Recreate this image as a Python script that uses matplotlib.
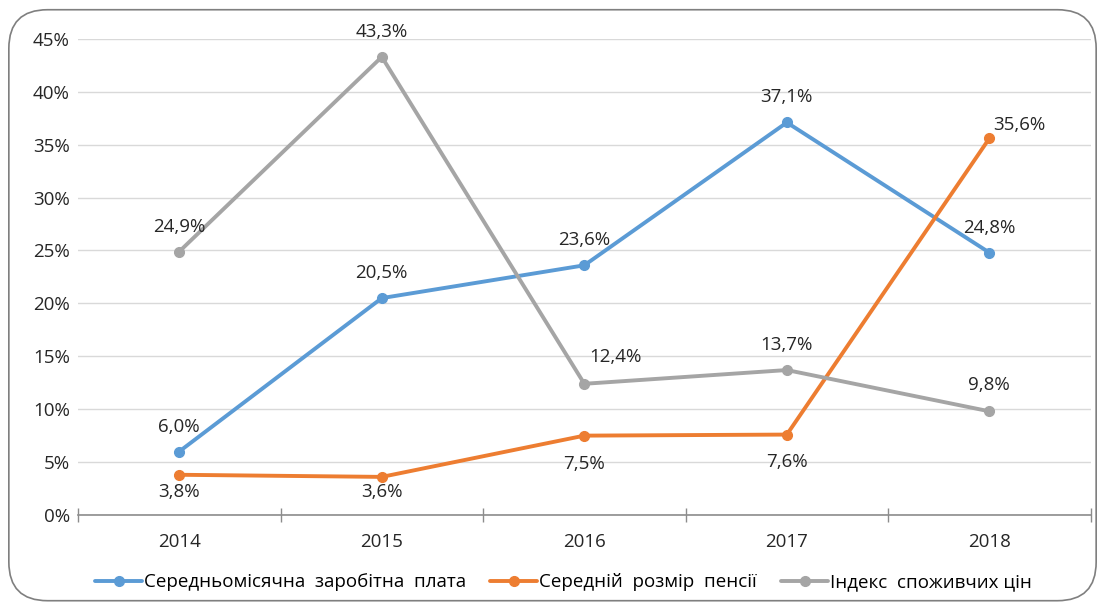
import matplotlib
matplotlib.use("Agg")
import matplotlib.pyplot as plt
from matplotlib.patches import FancyBboxPatch
from matplotlib.ticker import FuncFormatter

plt.rcParams['font.family'] = ['Open Sans', 'DejaVu Sans']

# Дані
years = ['2014', '2015', '2016', '2017', '2018']
zarplata = [6.0, 20.5, 23.6, 37.1, 24.8]
pensiya = [3.8, 3.6, 7.5, 7.6, 35.6]
indeks = [24.9, 43.3, 12.4, 13.7, 9.8]
names = ['Середньомісячна  заробітна  плата', 'Середній  розмір  пенсії', 'Індекс  споживчих цін']
colors = ['#5B9BD5', '#ED7D31', '#A5A5A5']

# положення підписів: (dx, dy) у пікселях
off_z = [(0, 25), (0, 25), (0, 25), (0, 25), (0, 25)]
off_p = [(0, -17), (0, -15), (0, -28), (0, -27), (30, 13)]
off_i = [(0, 25), (0, 25), (31, 27), (0, 25), (0, 26)]

fig = plt.figure(figsize=(11.05, 6.08), dpi=100)
ax = fig.add_axes([0.0706, 0.153, 0.9164, 0.783])

x = list(range(len(years)))
series = [(zarplata, off_z), (pensiya, off_p), (indeks, off_i)]
for (vals, offs), name, c in zip(series, names, colors):
    ax.plot(x, vals, color=c, lw=2.8, marker='o', ms=7, label=name,
            solid_capstyle='round', zorder=3)
    for xi, v, (dx, dy) in zip(x, vals, offs):
        ax.annotate(f'{v:.1f}%'.replace('.', ','), (xi, v), xytext=(dx, dy),
                    textcoords='offset pixels', ha='center', va='center',
                    fontsize=13.5, color='#262626', zorder=4)

ax.set_ylim(0, 45)
ax.set_xlim(-0.5, 4.5)
ax.set_yticks(range(0, 46, 5))
ax.yaxis.set_major_formatter(FuncFormatter(lambda v, p: f'{int(v)}%'))
ax.grid(axis='y', color='#D9D9D9', lw=1)
ax.set_axisbelow(True)

ax.set_xticks([i - 0.5 for i in range(6)])
ax.set_xticklabels([])
ax.set_xticks(x, minor=True)
ax.set_xticklabels(years, minor=True)
ax.tick_params(axis='x', which='major', length=10, direction='inout', color='#8C8C8C', width=1)
ax.tick_params(axis='x', which='minor', length=0, pad=13, labelsize=13.5, labelcolor='#262626')
ax.tick_params(axis='y', length=0, pad=6, labelsize=13.5, labelcolor='#262626')

for s in ['top', 'right', 'left']:
    ax.spines[s].set_visible(False)
ax.spines['bottom'].set_color('#8C8C8C')
ax.spines['bottom'].set_linewidth(1.2)

fig.legend(loc='center', bbox_to_anchor=(0.51, 0.042), ncol=3, frameon=False,
           fontsize=13.5, handlelength=2.5, columnspacing=1.3, handletextpad=0.1)

border = FancyBboxPatch((0.008, 0.012), 0.984, 0.972, boxstyle='round,pad=0,rounding_size=0.035',
                        transform=fig.transFigure, fill=False, ec='#7F7F7F', lw=1.2,
                        mutation_aspect=1105 / 608)
fig.patches.append(border)

fig.savefig('out.png', dpi=100)
